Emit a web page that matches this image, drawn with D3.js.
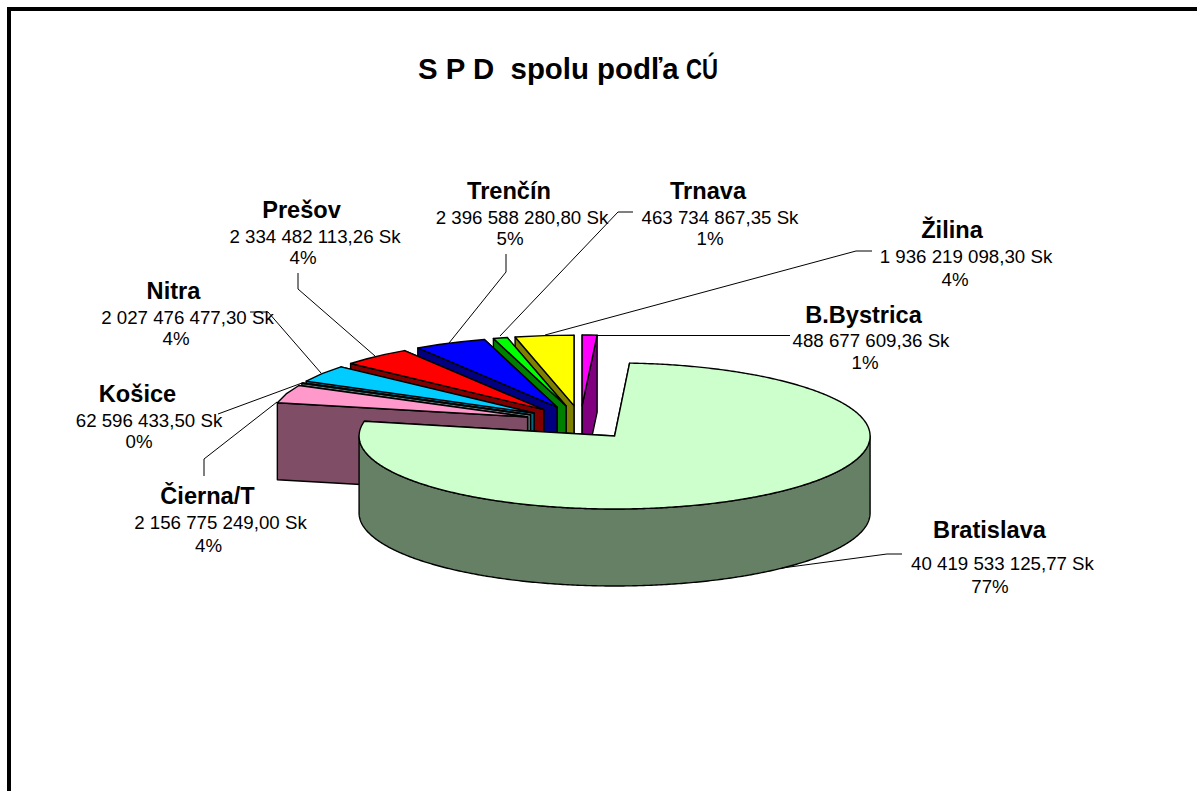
<!DOCTYPE html>
<html><head><meta charset="utf-8">
<script src="https://cdn.jsdelivr.net/npm/d3@7/dist/d3.min.js"></script>
<style>html,body{margin:0;padding:0;background:#fff;overflow:hidden}svg{display:block}text{font-family:"Liberation Sans",Arial,sans-serif;fill:#000}</style>
</head><body><svg id="c" width="1197" height="791"></svg>
<script>
// data
const titleMain = "S P D\u00a0\u00a0spolu pod\u013ea ";
const titleTail = "C\u00da";
const categories = ["B.Bystrica","Bratislava","\u010cierna/T","Ko\u0161ice","Nitra","Pre\u0161ov","Tren\u010d\u00edn","Trnava","\u017dilina"];
const values = [488677609.36,40419533125.77,2156775249.00,62596433.50,2027476477.30,2334482113.26,2396588280.80,463734867.35,1936219098.30];
const valueLabels = ["488 677 609,36 Sk","40 419 533 125,77 Sk","2 156 775 249,00 Sk","62 596 433,50 Sk","2 027 476 477,30 Sk","2 334 482 113,26 Sk","2 396 588 280,80 Sk","463 734 867,35 Sk","1 936 219 098,30 Sk"];
const percentLabels = ["1%","77%","4%","0%","4%","4%","5%","1%","4%"];
const topColors = ["#FF00FF","#CCFFCC","#FF99CC","#CCFFFF","#00CCFF","#FF0000","#0000FF","#00FF00","#FFFF00"];
const sideColors = ["#800080","#668066","#804D66","#668080","#006680","#800000","#000080","#008000","#808000"];

// layout (separate from data)
const C = {x:580.5, y:422.5}, R = {x:255.5, y:73}, backRy = 70.5, depth = 77, explode = {x:56, y:17};
const labelX = [[863.5,871,865],[989.5,1002.5,990],[207.5,220.5,208.5],[137.5,149,139],[173.5,187.5,176],[301.5,315,303],[509,522,510],[708,720,710],[952,966,955]];
const labelY = [[323,347,369],[538,570,593],[504,529,552],[402,427,448],[299,324,345],[218,243,264],[199,224,245],[199,224,245],[238,263,286]];
const leaders = [
 [[595,335.5],[790,335.5]],
 [[782,568],[887,554],[902,554]],
 [[277,402],[204,459],[204,476]],
 [[302,383],[218,414]],
 [[321,373],[268,312],[250,312]],
 [[375,356],[298,289],[298,273]],
 [[449,343],[506,272],[506,254]],
 [[500,336],[618,212],[633,212]],
 [[545,335],[856,251],[872,251]]
];

const svg = d3.select("#c");
svg.append("rect").attr("x",9).attr("y",9).attr("width",1200).attr("height",800).attr("fill","#fff").attr("stroke","#000").attr("stroke-width",4);

svg.append("text").attr("x",418).attr("y",79).attr("font-size",29.4).attr("font-weight","bold").text(titleMain);
svg.append("text").attr("x",686).attr("y",79).attr("font-size",29.4).attr("font-weight","bold")
   .attr("textLength",32).attr("lengthAdjust","spacingAndGlyphs").text(titleTail);

const pie = d3.pie().value(d=>d).sort(null).startAngle(0).endAngle(2*Math.PI);
const arcs = pie(values);
const line = d3.line();
const gPie = svg.append("g").attr("stroke","#000").attr("stroke-width",1.4).attr("stroke-linejoin","round");

function geom(a,i){
  const mid=(a.startAngle+a.endAngle)/2;
  const ry = i===1 ? R.y : backRy;
  const cx=C.x+explode.x*Math.sin(mid), cy=C.y-explode.y*Math.cos(mid);
  const pt=t=>[cx+R.x*Math.sin(t), cy-ry*Math.cos(t)];
  return {cx,cy,pt};
}
function sample(a0,a1,step){
  const n=Math.max(2,Math.ceil((a1-a0)/step));
  return d3.range(n+1).map(k=>a0+(a1-a0)*k/n);
}
const down=p=>[p[0],p[1]+depth];
const order=[8,7,6,5,4,3,2,0,1];
order.forEach(i=>{
  const a=arcs[i], g=geom(a,i), apex=[g.cx,g.cy];
  const s=g.pt(a.startAngle), e=g.pt(a.endAngle);
  const fine = i===1 ? 0.01 : 0.14;
  [[e],[s]].forEach(([o])=>{
    gPie.append("path").attr("d",line([apex,o,down(o),down(apex)])+"Z").attr("fill",sideColors[i]);
  });
  const f0=Math.max(a.startAngle,Math.PI/2), f1=Math.min(a.endAngle,3*Math.PI/2);
  if(f1>f0){
    const ts=sample(f0,f1,fine).map(g.pt);
    gPie.append("path").attr("d",line(ts.concat(ts.slice().reverse().map(down)))+"Z").attr("fill",sideColors[i]);
  }
  const rim=sample(a.startAngle,a.endAngle,fine).map(g.pt);
  gPie.append("path").attr("d",line([apex].concat(rim))+"Z").attr("fill",topColors[i]);
});

svg.append("g").selectAll("path").data(leaders).join("path")
  .attr("d",d=>line(d)).attr("fill","none").attr("stroke","#000").attr("stroke-width",1);

const gLab=svg.append("g").attr("text-anchor","middle");
categories.forEach((c,i)=>{
  gLab.append("text").attr("x",labelX[i][0]).attr("y",labelY[i][0]).attr("font-size",23.6).attr("font-weight","bold").text(c);
  gLab.append("text").attr("x",labelX[i][1]).attr("y",labelY[i][1]).attr("font-size",18.7).text(valueLabels[i]);
  gLab.append("text").attr("x",labelX[i][2]).attr("y",labelY[i][2]).attr("font-size",18.7).text(percentLabels[i]);
});
</script></body></html>
